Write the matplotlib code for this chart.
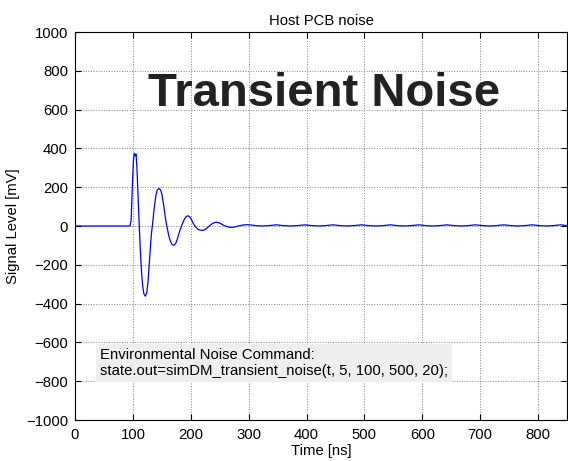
import numpy as np
import matplotlib
matplotlib.use("Agg")
import matplotlib.pyplot as plt

# signal: time [ns] and level [mV]
t_ns = [0, 95, 97, 99, 101, 102.5, 104, 105.5, 107, 109, 111, 113, 115, 117,
        119, 121.5, 124, 126, 128, 130, 132, 134, 136, 138, 140, 142, 145,
        148, 150, 152, 154, 156, 158, 160, 162, 165, 168, 171, 174, 177, 180,
        183, 186, 189, 192, 195, 198, 201, 204, 207, 210, 213, 217, 221, 225,
        229, 232, 236, 240, 244, 248, 252, 256, 260, 264, 268, 272, 276, 282,
        290, 297, 305, 312, 323, 335, 348, 360, 372, 384, 397, 409, 421, 433,
        446, 458, 470, 482, 495, 507, 520, 532, 545, 557, 569, 581, 594, 606,
        618, 630, 643, 655, 667, 679, 692, 704, 716, 728, 741, 753, 765, 777,
        790, 802, 814, 826, 839, 850]
level_mv = [0, 0, 30, 200, 340, 375, 362, 370, 300, 150, 0, -130, -240, -310,
            -350, -362, -345, -290, -210, -120, -40, 10, 70, 120, 160, 185, 194,
            185, 165, 130, 90, 45, 10, -20, -50, -80, -96, -99, -90, -65, -35,
            -8, 15, 35, 48, 53, 48, 35, 15, 0, -10, -18, -22, -23, -18,
            -8, 0, 10, 17, 19, 17, 12, 5, 0, -4, -7, -7, -5, 0,
            5, 7, 5, 2, 0, 2, 6, 2, 0, 2, 6, 2, 0, 2,
            6, 2, 0, 2, 6, 2, 0, 2, 6, 2, 0, 2, 6, 2,
            0, 2, 6, 2, 0, 2, 6, 2, 0, 2, 6, 2, 0, 2,
            6, 2, 0, 2, 6, 2]

x_ticks = [0, 100, 200, 300, 400, 500, 600, 700, 800]
y_ticks = [-1000, -800, -600, -400, -200, 0, 200, 400, 600, 800, 1000]

plt.rcParams['font.family'] = ['Liberation Sans', 'DejaVu Sans']
fs = 10.7

fig = plt.figure(figsize=(5.68, 4.61), dpi=100)
ax = fig.add_axes([75 / 568, 41 / 461, 492 / 568, 388 / 461])

ax.plot(t_ns, level_mv, color='#0000ff', lw=0.9)

ax.set_xlim(0, 850)
ax.set_ylim(-1000, 1000)
ax.set_xticks(x_ticks)
ax.set_yticks(y_ticks)
ax.tick_params(direction='in', length=4, width=0.8, top=True, right=True,
               labelsize=fs)
ax.tick_params(axis='x', pad=6)
ax.tick_params(axis='y', pad=5)
ax.grid(True, linestyle=':', color='#808080', lw=0.7)
for s in ax.spines.values():
    s.set_linewidth(0.8)

ax.set_title("Host PCB noise", fontsize=fs, pad=5)
ax.set_xlabel("Time [ns]", fontsize=fs, labelpad=1)
ax.set_ylabel("Signal Level [mV]", fontsize=fs, labelpad=4)

ax.text(430, 680, "Transient Noise", fontsize=34, fontweight='bold',
        color='#222222', ha='center', va='center')

ax.text(43, -705, "Environmental Noise Command:\n"
        "state.out=simDM_transient_noise(t, 5, 100, 500, 20);",
        fontsize=fs, ha='left', va='center', linespacing=1.15,
        bbox=dict(facecolor='#eeeeee', edgecolor='none', pad=3))

fig.savefig("out.png", dpi=100)
